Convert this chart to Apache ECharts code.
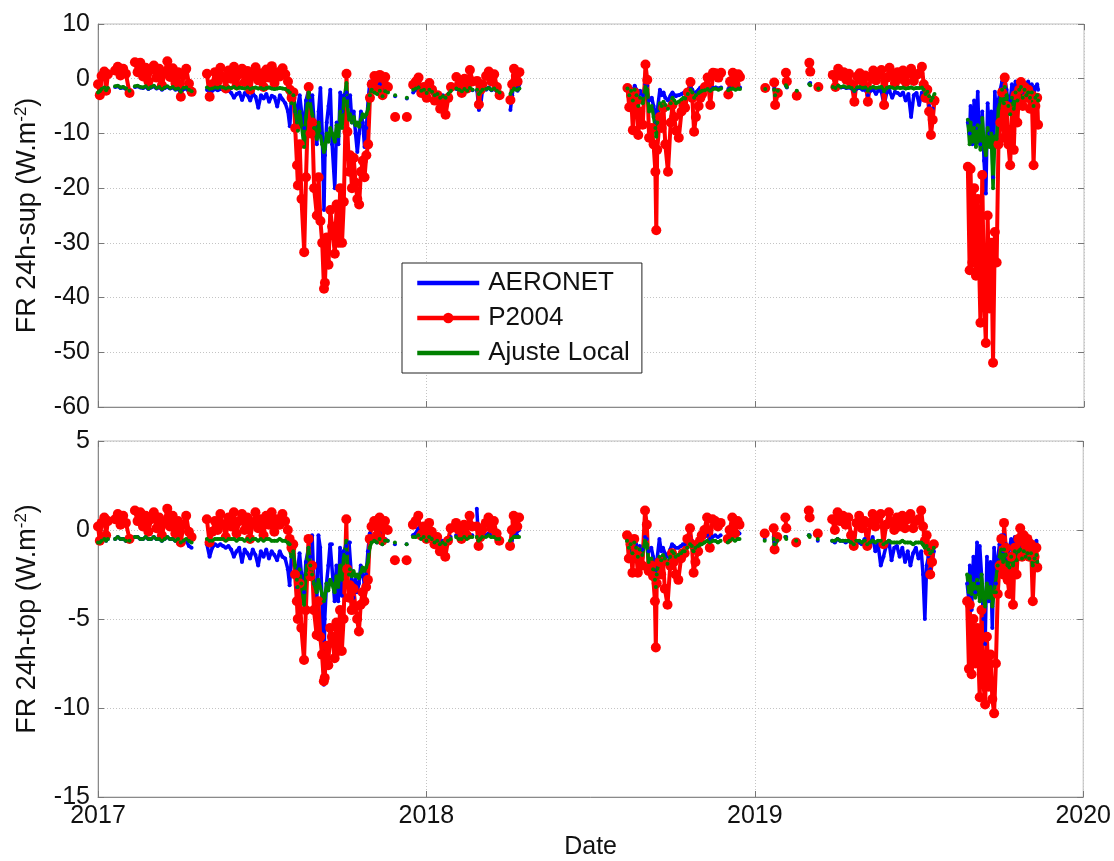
<!DOCTYPE html>
<html>
<head>
<meta charset="utf-8">
<title>FR 24h AERONET / P2004 / Ajuste Local</title>
<script src="https://cdn.jsdelivr.net/npm/echarts@6/dist/echarts.min.js"></script>
<style>
  html, body { margin: 0; padding: 0; background: #ffffff; }
  #chart { width: 1114px; height: 861px; }
</style>
</head>
<body>
<div id="chart"></div>
<script>
// Observation days, counted from 2017-01-01; null values break the lines.
const obsDay = [
  0,2,4,7,9,11,15,19,22,25,28,31,35,38,41,44,47,50,53,56,59,62,65,68,71,74,77,80,83,86,89,92,95,98,101,104,
  113,121,124,127,130,133,136,139,142,145,148,151,154,157,160,163,166,169,172,175,178,181,184,187,190,193,196,199,202,205,208,211,
  213,215,217,219,221,222,224,226,229,231,
  234,236,238,240,243,245,247,249,251,252,
  254,256,258,260,263,265,267,269,271,273,
  276,277,279,280,282,284,286,288,290,292,
  294,296,298,300,302,304,
  307,310,313,316,319,322,326,330,336,343,346,
  350,353,356,359,362,365,368,371,374,377,380,383,386,389,392,395,
  398,401,404,407,410,413,416,419,421,423,425,427,429,
  431,434,437,440,443,446,452,458,460,462,464,466,468,472,
  588,590,592,594,596,598,600,602,605,608,
  610,612,615,617,619,620,621,624,626,628,
  630,633,636,638,640,642,645,648,650,652,
  655,658,660,662,664,667,669,671,674,677,
  680,683,686,689,692,696,700,702,705,708,
  711,713,720,
  741,746,751,752,755,758,764,765,770,776,784,790,791,795,800,808,
  816,819,822,825,828,831,834,837,840,843,
  846,849,852,855,858,861,864,867,870,873,
  876,879,882,885,888,891,894,897,900,903,
  906,909,912,915,917,919,921,923,925,927,
  929,935,
  966,968,969,971,973,975,977,978,980,982,
  984,986,988,990,992,994,996,998,1000,1002,
  1004,1006,1007,1009,1011,1013,1015,1017,1019,1021,
  1023,1025,1027,1029,1031,1033,1035,1037,1039,1041,
  1043,1044
];

// FR 24h at the surface (W.m-2)
const aeronetSup = [
  -2.7,-2.4,-2.0,-1.8,-2.2,-1.8,null,-1.5,-1.4,-1.7,-1.6,-1.9,-2.3,null,-1.5,-1.4,-1.6,-1.7,-1.5,-1.9,-1.6,-1.4,-1.8,-1.6,-2.0,-1.7,-1.5,-1.8,-1.6,-2.0,-1.9,-2.6,-1.9,-1.8,-2.4,-2.8,
  null,-2.0,-2.5,-2.2,-1.9,-2.1,-1.9,-2.0,-2.3,-2.1,-2.6,-3.5,-2.8,-2.5,-3.9,-2.6,-3.0,-4.0,-2.7,-3.3,-5.3,-3.0,-3.6,-2.8,-4.2,-3.1,-3.4,-5.1,-3.0,-3.8,-4.5,-6.0,
  -8.7,-3.0,-2.0,-6.0,-8.0,-5.0,-3.0,-6.0,-9.0,-4.0,
  -2.0,-4.0,-3.0,-8.0,-12.0,-6.0,-1.7,-10.0,-24.0,-14.0,
  -8.0,-5.0,-2.0,-12.0,-20.0,-8.0,-12.0,-2.5,-6.0,-3.0,
  -2.5,-3.5,-5.0,-3.0,-8.0,-6.0,-10.0,-13.4,-10.0,-6.0,
  -8.0,-12.5,-9.0,-3.9,-0.5,-1.5,
  -2.0,-2.5,-1.0,-3.0,-1.8,-2.2,null,-3.2,null,-3.6,null,
  -2.5,-2.0,-1.5,-2.5,-2.2,-2.8,-1.9,-2.5,-3.2,-3.0,-3.6,-3.0,-3.8,-2.9,-2.0,null,
  -1.9,-2.1,-2.4,-2.0,-2.3,-1.8,-2.1,null,-2.2,-5.7,-4.8,-2.0,null,
  -2.0,-1.6,-2.1,-1.9,-2.3,-2.6,null,-5.7,-3.0,-0.5,-1.5,-2.2,-1.0,null,
  -1.5,-2.5,-1.8,-3.0,-1.3,-2.0,-3.5,-2.2,-3.0,-1.0,
  -1.3,-4.0,-3.5,-5.0,-7.0,-8.0,-6.0,-2.0,-3.0,-2.5,
  -3.5,-4.0,-3.0,-2.5,-3.0,-3.2,-3.0,-2.8,-2.6,-2.5,
  -2.0,-1.5,-2.0,-2.8,-2.5,-2.0,-1.6,-1.8,-1.8,-1.6,
  -2.0,-1.7,-1.6,-1.8,-1.6,null,-1.9,-1.7,-1.5,-1.8,
  -1.4,-1.6,null,
  -1.9,null,-1.8,-3.0,-2.0,null,-1.3,-1.6,null,-2.3,null,-0.9,-0.8,null,-1.8,null,
  -1.6,-1.8,-1.4,-1.6,-1.5,-1.7,-1.6,-1.8,-2.3,-1.8,
  -1.7,-2.0,-2.0,-3.0,-2.2,-2.0,-2.8,-2.0,-2.4,-4.8,
  -2.5,-2.2,-3.5,-2.4,-2.6,-3.0,-2.5,-4.0,-2.8,-7.0,
  -3.0,-2.6,-4.8,-2.5,-3.0,-4.0,-3.0,-5.0,-7.0,-5.5,
  -4.0,null,
  -8.0,-10.0,-5.0,-12.0,-4.0,-9.0,-2.4,-8.0,-12.0,-6.0,
  -15.0,-21.0,-4.5,-10.0,-6.0,-18.0,-2.4,-8.0,-4.0,-2.0,
  -0.5,-3.0,0.1,-2.0,-4.8,-4.0,-1.0,-3.5,-0.5,-3.0,
  -0.8,-0.2,-2.5,-0.8,-2.0,-0.5,-2.0,-1.0,-3.0,-1.5,
  -1.0,-2.0
];
const p2004Sup = [
  -1.0,-3.0,0.5,1.3,-2.2,0.8,null,1.5,2.2,0.6,1.8,0.9,-2.6,null,3.0,1.2,2.9,0.4,2.0,-0.5,1.6,2.4,0.2,1.8,-1.2,1.0,3.2,0.3,1.9,-0.8,1.2,-3.3,0.6,1.8,-0.9,-2.4,
  null,0.9,-3.3,-1.0,1.2,-0.5,2.0,0.3,-1.8,1.5,0.0,2.2,-1.2,0.8,1.8,-0.6,1.4,-2.0,0.6,2.1,-0.3,1.0,-1.5,1.7,0.2,2.3,-0.8,1.2,0.4,1.9,0.8,-0.5,
  -2.0,-3.5,-2.5,-9.0,-15.8,-19.5,-12.0,-22.0,-31.7,-18.0,
  -1.5,-10.0,-8.0,-20.0,-25.0,-18.0,-26.0,-30.0,-38.4,-37.3,
  -29.0,-34.0,-24.0,-27.0,-32.0,-23.0,-30.0,-20.0,-30.0,-22.5,
  0.9,-9.7,-17.0,-14.0,-20.0,-14.5,-19.0,-22.0,-23.0,-17.0,
  -15.0,-18.0,-14.0,-12.0,-3.5,-1.0,
  0.5,-2.0,0.7,-3.0,0.3,-1.5,null,-7.0,null,-7.0,null,
  -1.1,-0.5,0.2,-2.6,-1.5,-3.5,-0.8,-2.0,-4.0,-3.0,-5.5,-4.5,-6.6,-3.5,-1.5,null,
  0.3,-1.0,-2.6,0.0,-1.8,1.6,-0.5,null,-0.4,-4.7,-2.0,-1.0,null,
  0.5,1.3,-0.5,0.8,-1.5,-3.0,null,-3.9,-1.0,1.8,0.5,-0.5,1.2,null,
  -1.7,-5.2,-3.0,-9.4,-2.5,-4.0,-10.3,-6.0,-8.4,2.6,
  -0.2,-10.8,-9.0,-12.0,-17.0,-27.7,-13.0,-7.0,-9.0,-5.3,
  -12.0,-17.0,-8.0,-4.8,-7.0,-9.5,-10.8,-6.0,-4.8,-5.3,
  -2.5,-0.6,-3.5,-9.7,-7.0,-5.0,-3.5,-2.8,-1.5,0.2,
  -4.8,1.1,1.0,0.2,1.1,null,-2.9,-0.5,1.1,-1.0,
  0.8,0.3,null,
  -1.7,null,-0.7,-4.8,-2.6,null,1.1,-0.5,null,-3.1,null,2.9,1.3,null,-1.5,null,
  0.7,-1.5,1.8,0.5,1.2,-0.2,0.9,-1.0,-4.2,0.4,
  1.0,-0.5,0.6,-4.2,0.3,1.5,-0.3,0.8,1.6,-4.8,
  0.2,2.0,0.5,-0.8,1.2,0.0,1.5,-0.6,0.9,1.8,
  -0.4,0.7,1.0,2.2,-1.0,-3.5,-2.0,-6.0,-10.3,-7.5,
  -4.0,null,
  -16.1,-35.0,-16.5,-33.6,-20.0,-36.0,-22.0,-30.0,-44.6,-17.6,
  -40.0,-48.3,-25.0,-42.0,-30.0,-51.9,-28.0,-33.6,-12.0,-8.0,
  -2.5,-10.8,0.2,-5.0,-12.0,-15.8,-6.0,-13.0,-3.0,-8.0,
  -2.0,-0.6,-5.0,-1.5,-3.5,-2.0,-5.5,-3.0,-15.8,-5.0,
  -3.5,-8.4
];
const ajusteSup = [
  -2.5,-2.3,-1.9,-1.6,-2.1,-1.7,null,-1.4,-1.3,-1.6,-1.5,-1.8,-2.2,null,-1.4,-1.3,-1.5,-1.6,-1.4,-1.8,-1.5,-1.3,-1.7,-1.5,-1.9,-1.6,-1.4,-1.7,-1.5,-1.9,-1.8,-2.4,-1.7,-1.6,-2.0,-2.3,
  null,-1.6,-1.9,-1.8,-1.6,-1.7,-1.5,-1.6,-1.8,-1.6,-1.7,-1.5,-1.8,-1.6,-1.7,-1.8,-1.6,-1.9,-1.7,-1.6,-1.8,-1.7,-1.9,-1.7,-1.6,-1.8,-1.9,-1.8,-1.7,-1.8,-1.9,-2.2,
  -2.5,-4.5,-3.0,-6.0,-8.0,-9.5,-6.0,-8.5,-12.5,-7.0,
  -2.5,-5.0,-6.5,-9.0,-11.0,-8.0,-10.5,-12.0,-13.4,-12.8,
  -10.0,-11.5,-9.0,-10.0,-11.5,-8.5,-10.5,-6.0,-9.0,-4.0,
  -0.8,-5.0,-7.5,-6.5,-8.0,-7.0,-8.5,-8.0,-8.8,-7.5,
  -6.5,-7.0,-6.5,-5.5,-3.0,-2.0,
  -2.5,-2.8,-2.2,-3.2,-2.3,-2.5,null,-3.0,null,-3.5,null,
  -2.0,-1.8,-1.6,-2.2,-2.0,-2.6,-2.0,-2.4,-3.0,-2.8,-3.5,-3.2,-3.5,-2.8,-2.2,null,
  -1.8,-2.0,-2.3,-1.9,-2.2,-1.7,-2.0,null,-2.0,-2.8,-2.4,-2.0,null,
  -1.9,-1.7,-2.0,-1.8,-2.2,-2.5,null,-2.8,-2.2,-1.8,-2.0,-2.0,-1.8,null,
  -1.8,-3.0,-2.2,-4.0,-2.0,-3.0,-5.0,-3.5,-4.5,-1.5,
  -2.0,-6.0,-5.0,-7.0,-9.0,-10.6,-8.0,-4.5,-5.0,-4.2,
  -4.8,-5.5,-4.5,-3.5,-4.0,-4.5,-4.2,-3.8,-3.5,-3.6,
  -2.8,-2.0,-2.5,-3.5,-3.0,-2.6,-2.4,-2.2,-2.1,-1.9,
  -2.2,-1.9,-1.8,-2.0,-1.8,null,-2.1,-1.9,-1.8,-2.0,
  -1.8,-1.9,null,
  -1.9,null,-2.0,-3.0,-2.2,null,-1.2,-1.5,null,-2.2,null,-1.0,-1.2,null,-1.8,null,
  -1.5,-1.7,-1.3,-1.5,-1.4,-1.6,-1.5,-1.7,-2.2,-1.6,
  -1.5,-1.7,-1.6,-2.2,-1.7,-1.5,-1.7,-1.6,-1.5,-2.3,
  -1.7,-1.5,-1.6,-1.8,-1.6,-1.7,-1.6,-1.8,-1.7,-1.6,
  -1.8,-1.7,-1.7,-1.6,-2.0,-2.8,-2.4,-3.2,-4.0,-3.5,
  -2.8,null,
  -7.5,-12.0,-8.0,-11.5,-9.0,-12.5,-8.5,-10.0,-13.0,-7.2,
  -12.0,-14.0,-9.0,-12.5,-10.0,-20.0,-10.5,-11.0,-5.5,-4.0,
  -2.0,-4.5,-1.5,-3.0,-5.0,-6.5,-3.5,-5.5,-2.5,-4.0,
  -2.0,-1.5,-3.5,-2.0,-3.0,-2.5,-3.5,-2.5,-5.0,-3.5,
  -3.0,-4.0
];

// FR 24h at the top of the atmosphere (W.m-2)
const aeronetTop = [
  -0.7,-0.7,-0.6,-0.5,-0.6,-0.5,null,-0.5,-0.4,-0.5,-0.5,-0.6,-0.6,null,-0.4,-0.4,-0.5,-0.5,-0.4,-0.5,-0.5,-0.4,-0.5,-0.5,-0.6,-0.5,-0.4,-0.5,-0.5,-0.6,-0.6,-0.8,-0.7,-0.6,-0.9,-1.0,
  null,-0.8,-1.5,-1.0,-0.8,-0.9,-0.8,-0.9,-1.0,-0.9,-1.1,-1.5,-1.2,-1.0,-1.8,-1.1,-1.3,-1.6,-1.1,-1.4,-2.0,-1.2,-1.5,-1.1,-1.6,-1.2,-1.4,-1.7,-1.2,-1.5,-1.6,-2.2,
  -3.1,-1.5,-1.0,-2.5,-3.2,-2.2,-1.3,-2.4,-3.5,-1.8,
  -1.0,-1.5,-0.3,-3.0,-4.5,-0.3,-1.0,-4.0,-8.7,-5.0,
  -3.0,-2.0,-0.8,-0.8,-4.0,-2.0,-4.0,-1.0,-3.7,-1.2,
  -0.9,-1.3,-0.7,-0.7,-2.8,-3.8,-2.8,-3.5,-3.0,-2.0,
  -2.5,-3.0,-2.5,-1.2,-0.2,-0.4,
  -0.4,-0.7,-0.2,-0.8,-0.5,-0.6,null,-0.8,null,-0.8,null,
  -0.3,-0.2,0.1,-0.4,-0.3,-0.5,-0.3,-0.4,-0.6,-0.5,-0.7,-0.6,-0.7,-0.5,-0.4,null,
  -0.3,-0.4,-0.5,-0.2,-0.4,-0.3,-0.3,null,1.2,-0.6,-0.5,-0.3,null,
  -0.3,-0.2,-0.3,-0.3,-0.4,-0.5,null,-1.0,-0.6,0.0,-0.2,-0.3,0.0,null,
  -0.5,-0.9,-0.6,-1.2,-0.4,-0.8,-1.2,-0.9,-1.1,-0.4,
  -0.5,-1.2,-1.0,-1.5,-2.0,-2.4,-1.8,-0.5,-1.2,-1.0,
  -1.3,-1.5,-1.1,-0.8,-0.9,-1.0,-1.0,-0.9,-0.8,-0.8,
  -0.6,-0.4,-0.6,-1.0,-0.8,-0.7,-0.5,-0.5,-0.4,-0.3,
  -0.5,-0.4,-0.3,-0.4,-0.3,null,-0.4,-0.3,-0.2,-0.3,
  -0.1,-0.2,null,
  -0.5,null,-0.4,-0.7,-0.5,null,-0.4,-0.4,null,-0.6,null,-0.3,-0.3,null,-0.6,null,
  -0.6,-0.7,-0.5,-0.6,-0.6,-0.7,-0.6,-0.7,-0.9,-0.7,
  -0.7,-0.8,-0.5,-1.0,-0.8,-0.4,-1.2,-0.8,-2.0,-1.5,
  -0.9,-0.6,-1.7,-1.0,-0.9,-1.5,-1.0,-1.8,-1.2,-2.0,
  -1.3,-1.0,-1.6,-1.2,-2.5,-5.0,-2.0,-1.5,-2.2,-1.8,
  -1.2,null,
  -3.0,-4.0,-2.0,-4.5,-1.5,-3.5,-0.7,-3.0,-0.9,-2.5,
  -5.0,-6.4,-1.5,-4.0,-1.8,-5.5,-1.0,-3.0,-1.6,-0.8,
  -0.3,-1.2,-0.3,-0.8,-1.6,-1.5,-0.5,-1.3,-0.4,-1.2,
  -0.5,-0.3,-1.0,-0.5,-0.9,-0.4,-0.9,-0.6,-1.4,-0.8,
  -0.6,-1.0
];
const p2004Top = [
  0.2,-0.6,0.4,0.7,-0.3,0.5,null,0.6,0.9,0.3,0.8,0.4,-0.5,null,1.1,0.5,1.0,0.2,0.8,-0.1,0.6,1.0,0.1,0.7,-0.3,0.4,1.2,0.2,0.8,-0.2,0.5,-0.7,0.3,0.8,-0.1,-0.4,
  null,0.6,-0.7,-0.1,0.5,0.0,0.9,0.3,-0.4,0.7,0.2,1.0,-0.2,0.5,0.9,0.0,0.7,-0.5,0.4,1.0,0.1,0.6,-0.3,0.8,0.3,1.0,-0.1,0.6,0.3,0.9,0.5,0.0,
  -0.5,-1.0,-0.8,-2.5,-4.0,-5.0,-3.0,-5.5,-7.3,-4.5,
  -0.5,-2.6,-2.0,-4.5,-5.9,-4.0,-6.0,-7.0,-8.5,-8.3,
  -6.5,-7.6,-5.5,-6.0,-7.2,-5.2,-6.8,-4.5,-6.8,-5.0,
  0.6,-2.2,-3.8,-3.1,-4.5,-3.3,-4.3,-5.0,-5.7,-4.2,
  -3.5,-4.0,-3.2,-2.8,-0.5,0.2,
  0.5,-0.3,0.7,-0.6,0.5,0.0,null,-1.7,null,-1.7,null,
  0.3,0.5,0.8,-0.3,0.2,-0.5,0.4,-0.1,-0.8,-0.4,-1.2,-0.9,-1.5,-0.6,0.1,null,
  0.4,0.0,-0.5,0.3,-0.3,0.8,0.2,null,0.2,-0.9,-0.4,0.0,null,
  0.4,0.7,0.1,0.5,-0.2,-0.6,null,-0.9,0.0,0.8,0.5,0.2,0.7,null,
  -0.3,-1.6,-0.8,-2.4,-0.5,-1.2,-2.4,-1.5,-2.0,1.1,
  0.3,-2.3,-2.0,-2.6,-4.0,-6.6,-3.0,-1.8,-2.5,-1.8,
  -3.3,-4.2,-2.0,-1.3,-1.8,-2.5,-2.8,-1.6,-1.3,-1.3,
  -0.5,0.1,-0.8,-2.4,-1.8,-1.2,-0.6,-0.3,0.0,0.7,
  -1.0,0.6,0.5,0.2,0.4,null,-0.5,0.0,0.7,-0.2,
  0.5,0.3,null,
  -0.2,null,0.1,-1.1,-0.4,null,0.7,0.1,null,-0.7,null,1.1,0.7,null,-0.2,null,
  0.6,0.0,1.0,0.5,0.8,0.3,0.7,-0.3,-0.9,0.4,
  0.8,0.1,0.5,-0.9,0.4,0.9,0.2,0.6,0.9,-0.8,
  0.3,1.0,0.4,0.0,0.7,0.2,0.8,0.1,0.6,0.9,
  0.1,0.5,0.6,1.1,0.2,-0.6,-0.3,-1.2,-2.5,-1.8,
  -0.8,null,
  -4.0,-7.8,-4.2,-8.1,-5.0,-7.5,-5.5,-6.5,-9.4,-4.5,
  -8.5,-9.8,-6.0,-8.8,-7.0,-9.5,-10.3,-7.5,-3.6,-2.0,
  -0.5,-2.5,0.4,-1.0,-2.8,-3.6,-1.5,-4.2,-1.0,-2.5,
  -0.5,0.1,-1.5,-0.3,-1.0,-0.5,-1.5,-0.8,-4.0,-1.5,
  -1.0,-2.1
];
const ajusteTop = [
  -0.7,-0.7,-0.6,-0.5,-0.6,-0.5,null,-0.5,-0.4,-0.5,-0.5,-0.6,-0.6,null,-0.4,-0.4,-0.5,-0.5,-0.4,-0.5,-0.5,-0.4,-0.5,-0.5,-0.6,-0.5,-0.4,-0.5,-0.5,-0.6,-0.5,-0.7,-0.6,-0.5,-0.6,-0.7,
  null,-0.5,-0.6,-0.6,-0.5,-0.5,-0.5,-0.5,-0.6,-0.5,-0.5,-0.5,-0.6,-0.5,-0.5,-0.6,-0.5,-0.6,-0.5,-0.5,-0.6,-0.5,-0.6,-0.5,-0.5,-0.6,-0.6,-0.6,-0.5,-0.6,-0.6,-0.7,
  -0.8,-1.5,-1.2,-2.0,-2.8,-3.2,-2.2,-3.0,-4.2,-2.5,
  -1.0,-2.0,-2.5,-3.0,-3.5,-2.8,-3.2,-3.6,-4.0,-3.8,
  -3.0,-3.4,-2.8,-3.0,-3.5,-2.6,-3.2,-2.0,-2.8,-1.6,
  -0.6,-1.8,-2.5,-2.2,-2.6,-2.3,-2.6,-2.5,-2.7,-2.4,
  -2.1,-2.3,-2.1,-1.8,-1.0,-0.7,
  -0.6,-0.7,-0.5,-0.8,-0.6,-0.6,null,-0.7,null,-0.8,null,
  -0.4,-0.4,-0.3,-0.5,-0.4,-0.6,-0.4,-0.5,-0.7,-0.6,-0.8,-0.7,-0.8,-0.6,-0.5,null,
  -0.4,-0.5,-0.5,-0.4,-0.5,-0.4,-0.4,null,-0.4,-0.6,-0.5,-0.4,null,
  -0.4,-0.3,-0.4,-0.4,-0.5,-0.5,null,-0.6,-0.5,-0.4,-0.4,-0.4,-0.4,null,
  -0.6,-1.0,-0.8,-1.3,-0.7,-1.0,-1.5,-1.1,-1.4,-0.6,
  -0.8,-1.8,-1.6,-2.2,-2.8,-3.2,-2.5,-1.5,-1.7,-1.4,
  -1.6,-1.9,-1.5,-1.2,-1.3,-1.5,-1.4,-1.3,-1.2,-1.2,
  -1.0,-0.8,-0.9,-1.2,-1.0,-0.9,-0.8,-0.8,-0.7,-0.6,
  -0.7,-0.6,-0.6,-0.7,-0.6,null,-0.7,-0.6,-0.5,-0.6,
  -0.5,-0.5,null,
  -0.6,null,-0.5,-0.8,-0.6,null,-0.4,-0.5,null,-0.6,null,-0.3,-0.4,null,-0.5,null,
  -0.6,-0.6,-0.5,-0.6,-0.6,-0.6,-0.6,-0.7,-0.8,-0.6,
  -0.6,-0.7,-0.6,-0.8,-0.7,-0.6,-0.7,-0.6,-0.6,-0.8,
  -0.7,-0.6,-0.7,-0.7,-0.7,-0.7,-0.6,-0.7,-0.7,-0.7,
  -0.8,-0.7,-0.7,-0.7,-0.8,-1.0,-0.9,-1.1,-1.3,-1.2,
  -1.0,null,
  -2.5,-3.5,-2.6,-3.6,-3.0,-3.8,-2.8,-3.2,-4.0,-2.5,
  -3.8,-4.3,-3.0,-3.8,-3.2,-4.3,-3.5,-3.5,-2.0,-1.5,
  -1.1,-1.8,-1.1,-1.4,-2.0,-2.1,-1.5,-2.0,-1.2,-1.7,
  -1.2,-1.1,-1.6,-1.2,-1.5,-1.3,-1.6,-1.3,-2.0,-1.6,
  -1.4,-1.8
];

// Axis ranges and tick labels
const yearTicks = ['2017', '2018', '2019', '2020'];
const supRange = { min: -60, max: 10, step: 10 };
const topRange = { min: -15, max: 5, step: 5 };

const FONT = '"Liberation Sans", Arial, Helvetica, sans-serif';
const COLORS = { aeronet: '#0000ff', p2004: '#ff0000', ajuste: '#008000' };
const TICK_FONT = 25;

function pairs(values) {
  return obsDay.map((d, i) => [d, values[i] === undefined ? null : values[i]]);
}

function xAxisFor(gridIndex, showLabels, position) {
  const onTop = position === 'top';
  return {
    type: 'value', gridIndex, position,
    min: 0, max: 1095, interval: 365,
    axisLine: { show: !onTop, onZero: false, lineStyle: { color: '#8a8a8a', width: 1 } },
    axisTick: { show: true, inside: true, length: 6, lineStyle: { color: '#777' } },
    axisLabel: {
      show: showLabels && !onTop, margin: 7, color: '#111', fontSize: TICK_FONT, fontFamily: FONT,
      formatter: v => yearTicks[Math.round(v / 365)]
    },
    splitLine: { show: !onTop, lineStyle: { type: [1, 2], color: '#c4c4c4', width: 1 } },
    name: (showLabels && !onTop) ? 'Date' : '',
    nameLocation: 'middle', nameGap: 38,
    nameTextStyle: { color: '#111', fontSize: 25, fontFamily: FONT }
  };
}

function yAxisFor(gridIndex, range, title, position) {
  const right = position === 'right';
  return {
    type: 'value', gridIndex, position,
    min: range.min, max: range.max, interval: range.step,
    axisLine: { show: !right, onZero: false, lineStyle: { color: '#8a8a8a', width: 1 } },
    axisTick: { show: true, inside: true, length: 6, lineStyle: { color: '#777' } },
    axisLabel: { show: !right, margin: 8, color: '#111', fontSize: TICK_FONT, fontFamily: FONT },
    splitLine: { show: !right, lineStyle: { type: [1, 2], color: '#c4c4c4', width: 1 } },
    name: right ? '' : title,
    nameLocation: 'middle', nameRotate: 90, nameGap: 53,
    nameTextStyle: {
      color: '#111', fontSize: 27, fontFamily: FONT, lineHeight: 30,
      rich: { sup: { fontSize: 17, fontFamily: FONT, color: '#111', verticalAlign: 'top', lineHeight: 30 } }
    }
  };
}

function seriesFor(idx, aer, p04, aj) {
  return [
    {
      name: 'AERONET', type: 'line', xAxisIndex: idx, yAxisIndex: idx,
      data: pairs(aer), symbol: 'circle', symbolSize: 4, connectNulls: false,
      lineStyle: { color: COLORS.aeronet, width: 3.5 }, itemStyle: { color: COLORS.aeronet },
      emphasis: { disabled: true }
    },
    {
      name: 'P2004', type: 'line', xAxisIndex: idx, yAxisIndex: idx,
      data: pairs(p04), symbol: 'circle', symbolSize: 10, connectNulls: false,
      lineStyle: { color: COLORS.p2004, width: 4 }, itemStyle: { color: COLORS.p2004 },
      emphasis: { disabled: true }
    },
    {
      name: 'Ajuste Local', type: 'line', xAxisIndex: idx, yAxisIndex: idx,
      data: pairs(aj), symbol: 'circle', symbolSize: 4, connectNulls: false,
      lineStyle: { color: COLORS.ajuste, width: 3.5 }, itemStyle: { color: COLORS.ajuste },
      emphasis: { disabled: true }
    }
  ];
}

const chart = echarts.init(document.getElementById('chart'), null, { renderer: 'canvas' });
chart.setOption({
  backgroundColor: '#ffffff',
  animation: false,
  grid: [
    { left: 98, top: 24, width: 986, height: 383, show: true, borderColor: '#bdbdbd', borderWidth: 1, backgroundColor: '#fff' },
    { left: 98, top: 441, width: 986, height: 359, show: true, borderColor: '#bdbdbd', borderWidth: 1, backgroundColor: '#fff' }
  ],
  xAxis: [
    xAxisFor(0, false, 'bottom'),
    xAxisFor(1, true, 'bottom'),
    xAxisFor(0, false, 'top'),
    xAxisFor(1, false, 'top')
  ],
  yAxis: [
    yAxisFor(0, supRange, 'FR 24h-sup (W.m{sup|-2})', 'left'),
    yAxisFor(1, topRange, 'FR 24h-top (W.m{sup|-2})', 'left'),
    yAxisFor(0, supRange, '', 'right'),
    yAxisFor(1, topRange, '', 'right')
  ],
  legend: {
    orient: 'vertical', left: 402, top: 263,
    padding: [7, 12, 7, 13], itemGap: 9, itemWidth: 62, itemHeight: 13,
    backgroundColor: '#ffffff', borderColor: '#222', borderWidth: 1, borderRadius: 0,
    selectedMode: false,
    lineStyle: { width: 4.5 },
    textStyle: { color: '#111', fontSize: 26, fontFamily: FONT, padding: [0, 0, 0, 4] },
    data: [
      { name: 'AERONET', itemStyle: { opacity: 0 } },
      { name: 'P2004' },
      { name: 'Ajuste Local', itemStyle: { opacity: 0 } }
    ]
  },
  series: [
    ...seriesFor(0, aeronetSup, p2004Sup, ajusteSup),
    ...seriesFor(1, aeronetTop, p2004Top, ajusteTop)
  ]
});
</script>
</body>
</html>
